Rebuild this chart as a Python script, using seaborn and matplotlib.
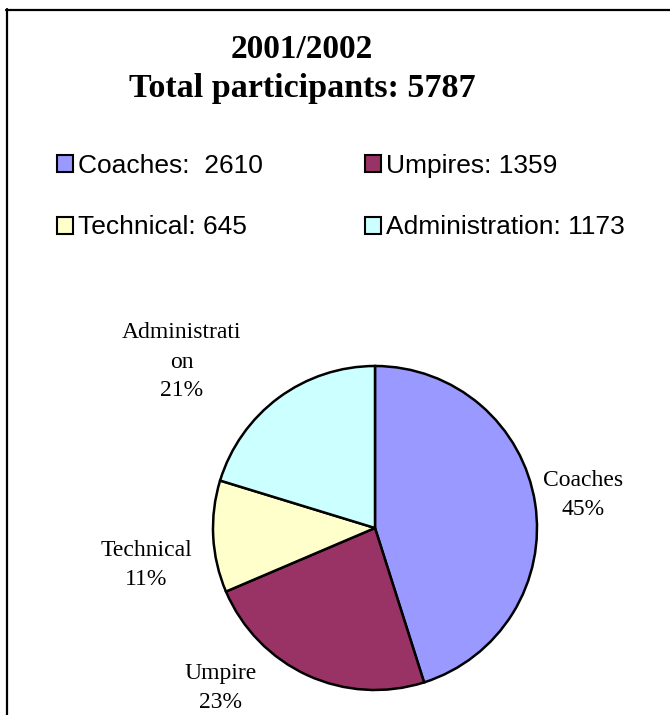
import matplotlib
matplotlib.use("Agg")
import matplotlib.pyplot as plt
from matplotlib.patches import Patch
from matplotlib.lines import Line2D
import seaborn as sns

# ---- data ----
categories = ["Coaches", "Umpires", "Technical", "Administration"]
counts = [2610, 1359, 645, 1173]
legend_labels = ["Coaches:  2610", "Umpires: 1359", "Technical: 645", "Administration: 1173"]
slice_labels = ["Coaches\n45%", "Umpire\n23%", "Technical\n11%", "Administrati\non\n21%"]
colors = ["#9999FF", "#993366", "#FFFFCC", "#CCFFFF"]
title_lines = ["2001/2002", "Total participants: 5787"]

sns.set_theme(style="white")
plt.rcParams["font.family"] = ["Liberation Sans", "DejaVu Sans"]
plt.rcParams["text.color"] = "black"

W, H = 670, 715
fig = plt.figure(figsize=(W / 100, H / 100), dpi=100)
fig.patch.set_facecolor("white")

def fx(px):
    return px / W

def fy(py):
    return 1 - py / H

# border (top and left visible)
fig.add_artist(Line2D([fx(6), fx(680)], [fy(9.5), fy(9.5)], color="black", lw=1.6,
                      transform=fig.transFigure))
fig.add_artist(Line2D([fx(6.5), fx(6.5)], [fy(9), fy(730)], color="black", lw=1.6,
                      transform=fig.transFigure))

# title
fig.text(fx(302), fy(49), title_lines[0], ha="center", va="center", color="black",
         family="Liberation Serif", weight="bold", fontsize=24)
fig.text(fx(302), fy(88), title_lines[1], ha="center", va="center", color="black",
         family="Liberation Serif", weight="bold", fontsize=24.5)

# pie
cx, cy, R = 375, 528, 162
pad = 1.05
half = R * pad
ax = fig.add_axes([fx(cx - half), fy(cy + half), 2 * half / W, 2 * half / H])
wedges, _ = ax.pie(counts, colors=colors, startangle=90, counterclock=False,
                   wedgeprops=dict(edgecolor="black", linewidth=1.8))
ax.set_xlim(-pad, pad)
ax.set_ylim(-pad, pad)
ax.set_aspect("equal")
ax.axis("off")

# slice labels (positions in pixels)
label_pos = [(583, 495), (221, 688), (146, 565), (182, 362)]
for txt, (px, py) in zip(slice_labels, label_pos):
    fig.text(fx(px), fy(py), txt, ha="center", va="center", family="Liberation Serif",
             fontsize=17, linespacing=1.5, color="black")

# legend
handles = [Patch(facecolor=c, edgecolor="black", linewidth=1.5) for c in colors]
order = [0, 2, 1, 3]
leg = fig.legend([handles[i] for i in order], [legend_labels[i] for i in order],
                 ncol=2, frameon=False, fontsize=19,
                 loc="upper left", bbox_to_anchor=(fx(57), fy(154)),
                 handlelength=0.61, handleheight=0.61, handletextpad=0.2,
                 columnspacing=3.85, labelspacing=1.42, borderpad=0, borderaxespad=0)
for t in leg.get_texts():
    t.set_color("black")

fig.savefig("out.png", dpi=100, facecolor="white")
